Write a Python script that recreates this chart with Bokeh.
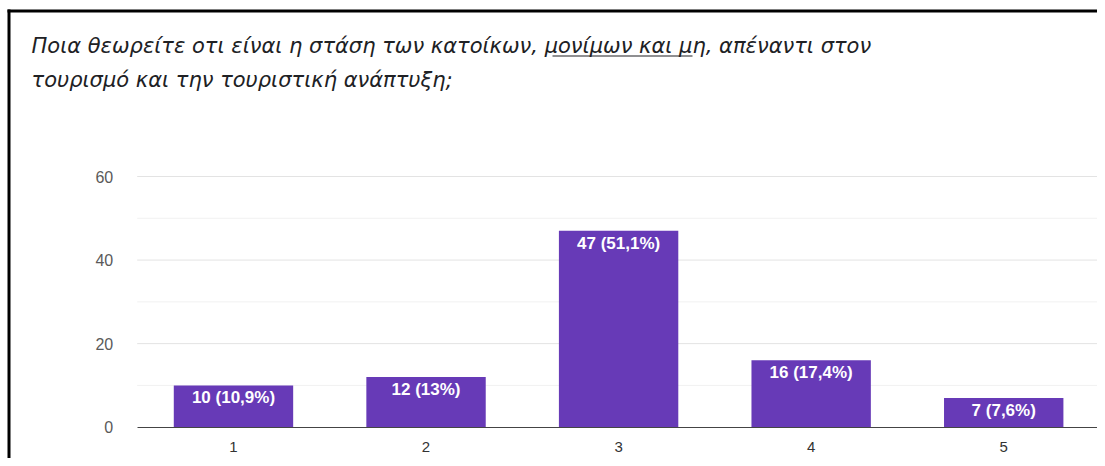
from bokeh.plotting import figure
from bokeh.models import (ColumnDataSource, LabelSet, Range1d, FixedTicker)
from bokeh.core.properties import value
from bokeh.embed import file_html
from bokeh.resources import INLINE

categories = ["1", "2", "3", "4", "5"]
counts = [10, 12, 47, 16, 7]
percents = ["10,9%", "13%", "51,1%", "17,4%", "7,6%"]
y_ticks = [0, 20, 40, 60]
y_minor = [10, 30, 50]
title_line1 = "Ποια θεωρείτε οτι είναι η στάση των κατοίκων, μονίμων και μη, απέναντι στον"
title_line2 = "τουρισμό και την τουριστική ανάπτυξη;"

# ---- layout constants (pixels) ----
W, H = 1097, 458
FL, FR = 136.7, 1099.5        # left/right edges of the category bands
Y0_PX, YTOP_PX = 426.7, 176.0  # pixel rows of y=0 and y=max tick

xs = list(range(1, len(categories) + 1))
labels = [f"{c} ({pc})" for c, pc in zip(counts, percents)]
src = ColumnDataSource(dict(x=xs, n=counts, lab=labels))

xunit = (FR - FL) / len(categories)
x_start = 0.5 - FL / xunit
x_end = len(categories) + 0.5 + (W - FR) / xunit
yunit = (Y0_PX - YTOP_PX) / max(y_ticks)
y_start = -(H - Y0_PX) / yunit
y_end = max(y_ticks) + YTOP_PX / yunit

p = figure(width=W, height=H, x_range=Range1d(x_start, x_end), y_range=Range1d(y_start, y_end),
           output_backend="svg", toolbar_location=None,
           min_border=0, min_border_left=0, min_border_right=0,
           min_border_top=0, min_border_bottom=0)
p.outline_line_color = None
p.background_fill_color = "white"
p.border_fill_color = "white"
p.xgrid.visible = False
p.ygrid.visible = False

# pixel-space ranges for page decorations (title, frame border)
p.extra_x_ranges = {"px": Range1d(0, W)}
p.extra_y_ranges = {"px": Range1d(H, 0)}

# horizontal gridlines along the tick values
band_l, band_r = 0.5, x_end
p.segment(x0=band_l, x1=band_r, y0=y_minor, y1=y_minor, line_color="#f1f1f1", line_width=1)
p.segment(x0=band_l, x1=band_r, y0=y_ticks[1:], y1=y_ticks[1:], line_color="#e3e3e3", line_width=1)

p.vbar(x="x", top="n", width=0.62, source=src, fill_color="#673ab7", line_color=None)

p.add_layout(LabelSet(x="x", y="n", text="lab", source=src, text_align="center",
                      text_baseline="top", y_offset=-3, text_color="white",
                      text_font=value("Liberation Sans"), text_font_size="17px",
                      text_font_style="bold"))

# axes, drawn at fixed data locations inside the frame
p.xaxis.fixed_location = 0
p.xaxis.bounds = (band_l, band_r)
p.xaxis.ticker = FixedTicker(ticks=xs)
p.xaxis.major_label_overrides = {x: c for x, c in zip(xs, categories)}
p.xaxis.axis_line_color = "#444444"
p.xaxis.major_tick_line_color = None
p.xaxis.minor_tick_line_color = None
p.xaxis.major_label_text_color = "#333333"
p.xaxis.major_label_text_font = "Liberation Sans"
p.xaxis.major_label_text_font_size = "15px"
p.xaxis.major_label_standoff = 9

p.yaxis.fixed_location = 0.5
p.yaxis.ticker = FixedTicker(ticks=y_ticks, minor_ticks=y_minor)
p.yaxis.axis_line_color = None
p.yaxis.major_tick_line_color = None
p.yaxis.minor_tick_line_color = None
p.yaxis.major_label_text_color = "#5a5a5a"
p.yaxis.major_label_text_font = "Liberation Sans"
p.yaxis.major_label_text_font_size = "16px"
p.yaxis.major_label_standoff = 18

# title (two lines, italic) with underlined phrase
p.text(x=[31, 31], y=[45, 79], text=[title_line1, title_line2],
       x_range_name="px", y_range_name="px",
       text_font=value("DejaVu Sans"), text_font_size="21px", text_font_style="italic",
       text_color="#202124", text_baseline="middle", text_align="left")
p.segment(x0=[552], y0=[55.5], x1=[692], y1=[55.5], x_range_name="px", y_range_name="px",
          line_color="#202124", line_width=1.2)

# black frame at top and left
p.quad(left=[7, 7], right=[W, 10], top=[9, 9], bottom=[12, H],
       x_range_name="px", y_range_name="px", fill_color="black", line_color=None)

open("out.html", "w").write(file_html(p, INLINE))
